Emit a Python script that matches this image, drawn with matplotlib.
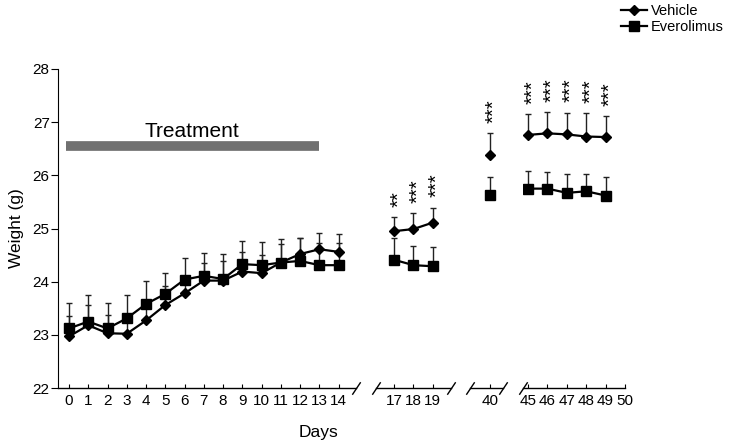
import matplotlib
matplotlib.use("Agg")
import matplotlib.pyplot as plt
import numpy as np

plt.rcParams['font.family'] = ['Liberation Sans', 'DejaVu Sans']

# --- данные (дни, среднее, SEM) ---
days_a = list(range(0, 15))
veh_a = [22.97, 23.18, 23.03, 23.02, 23.27, 23.56, 23.78, 24.02, 24.02, 24.19, 24.16, 24.36, 24.52, 24.61, 24.56]
veh_a_err = [0.38, 0.39, 0.34, 0.28, 0.30, 0.35, 0.26, 0.34, 0.36, 0.37, 0.35, 0.34, 0.31, 0.31, 0.33]
evr_a = [23.12, 23.25, 23.12, 23.31, 23.58, 23.77, 24.04, 24.11, 24.05, 24.33, 24.31, 24.36, 24.39, 24.31, 24.31]
evr_a_err = [0.48, 0.49, 0.47, 0.44, 0.43, 0.40, 0.40, 0.42, 0.47, 0.43, 0.44, 0.45, 0.44, 0.41, 0.41]

days_b = [17, 18, 19]
veh_b = [24.95, 24.99, 25.11]
veh_b_err = [0.27, 0.30, 0.28]
evr_b = [24.41, 24.31, 24.29]
evr_b_err = [0.42, 0.37, 0.36]
stars_b = ['**', '***', '***']

days_c = [40]
veh_c = [26.38]
veh_c_err = [0.41]
evr_c = [25.63]
evr_c_err = [0.34]
stars_c = ['***']

days_d = [45, 46, 47, 48, 49]
veh_d = [26.76, 26.79, 26.77, 26.73, 26.72]
veh_d_err = [0.39, 0.40, 0.41, 0.44, 0.40]
evr_d = [25.75, 25.75, 25.67, 25.70, 25.62]
evr_d_err = [0.34, 0.32, 0.35, 0.33, 0.34]
stars_d = ['***'] * 5

segments = [
    # (пиксели слева/справа, xlim, тики, данные)
    (58, 356, (-0.57, 14.9), days_a, days_a, veh_a, veh_a_err, evr_a, evr_a_err, None),
    (376, 451, (16.04, 19.96), days_b, days_b, veh_b, veh_b_err, evr_b, evr_b_err, stars_b),
    (470, 503, (38.96, 40.68), days_c, days_c, veh_c, veh_c_err, evr_c, evr_c_err, stars_c),
    (523, 625, (44.74, 50.0), days_d + [50], days_d, veh_d, veh_d_err, evr_d, evr_d_err, stars_d),
]

W, H = 729, 445
fig = plt.figure(figsize=(W / 100, H / 100), dpi=100)

bottom = (H - 388) / H
height = (388 - 69) / H

axes = []
for i, (x0, x1, xlim, ticks, d, v, ve, e, ee, stars) in enumerate(segments):
    ax = fig.add_axes([x0 / W, bottom, (x1 - x0) / W, height])
    ax.patch.set_alpha(0)
    ax.set_xlim(*xlim)
    ax.set_ylim(22, 28)
    ax.set_xticks(ticks)
    ax.set_xticklabels([str(t) for t in ticks], fontsize=11)
    ax.tick_params(axis='x', direction='in', length=3, pad=4, width=0.8)
    for s in ['top', 'right']:
        ax.spines[s].set_visible(False)
    ax.spines['bottom'].set_linewidth(1)
    if i == 0:
        ax.set_yticks(range(22, 29))
        ax.tick_params(axis='y', direction='out', length=5, pad=1, labelsize=11, width=0.8)
        ax.set_ylabel('Weight (g)', fontsize=12.5, labelpad=6)
    else:
        ax.spines['left'].set_visible(False)
        ax.set_yticks([])

    # планки погрешностей (только вверх)
    ax.errorbar(d, e, yerr=[np.zeros(len(ee)), ee], fmt='none', ecolor='#222222',
                elinewidth=1, capsize=2.5, capthick=1, zorder=2)
    ax.errorbar(d, v, yerr=[np.zeros(len(ve)), ve], fmt='none', ecolor='#222222',
                elinewidth=1, capsize=2.5, capthick=1, zorder=2)

    ax.plot(d, v, '-D', color='black', lw=1.6, ms=5, label='Vehicle', zorder=3)
    ax.plot(d, e, '-s', color='black', lw=1.6, ms=7, label='Everolimus', zorder=3)

    # звёздочки значимости, вертикально над планкой
    if stars:
        for xx, yy, err, st in zip(d, v, ve, stars):
            ax.annotate(st, xy=(xx, yy + err), xytext=(3.2, 7.4),
                        textcoords='offset points', ha='center', va='bottom',
                        rotation=90, fontsize=14.5)

    # знаки разрыва оси
    brk = dict(marker=[(-1, -1.5), (1, 1.5)], markersize=9, linestyle='none',
               color='k', mec='k', mew=1.0, clip_on=False)
    if i == 0:
        ax.plot([1], [0], transform=ax.transAxes, **brk)
    else:
        ax.plot([0], [0], transform=ax.transAxes, **brk)
        if i < len(segments) - 1:
            ax.plot([1], [0], transform=ax.transAxes, **brk)
    axes.append(ax)

ax1 = axes[0]
# полоса лечения
ax1.plot([-0.15, 12.97], [26.55, 26.55], color='#707070', lw=7, solid_capstyle='butt')
ax1.text(6.4, 26.83, 'Treatment', ha='center', va='center', fontsize=15)

fig.text(318 / W, 1 - 432 / H, 'Days', ha='center', va='center', fontsize=12.5)

handles, labels = ax1.get_legend_handles_labels()
fig.legend(handles, labels, loc='upper left', bbox_to_anchor=(621 / W, 1 - 4 / H),
           frameon=False, fontsize=10.5, handlelength=1.8, handletextpad=0.25,
           labelspacing=0.16, borderpad=0, borderaxespad=0)

fig.savefig('out.png', dpi=100)
